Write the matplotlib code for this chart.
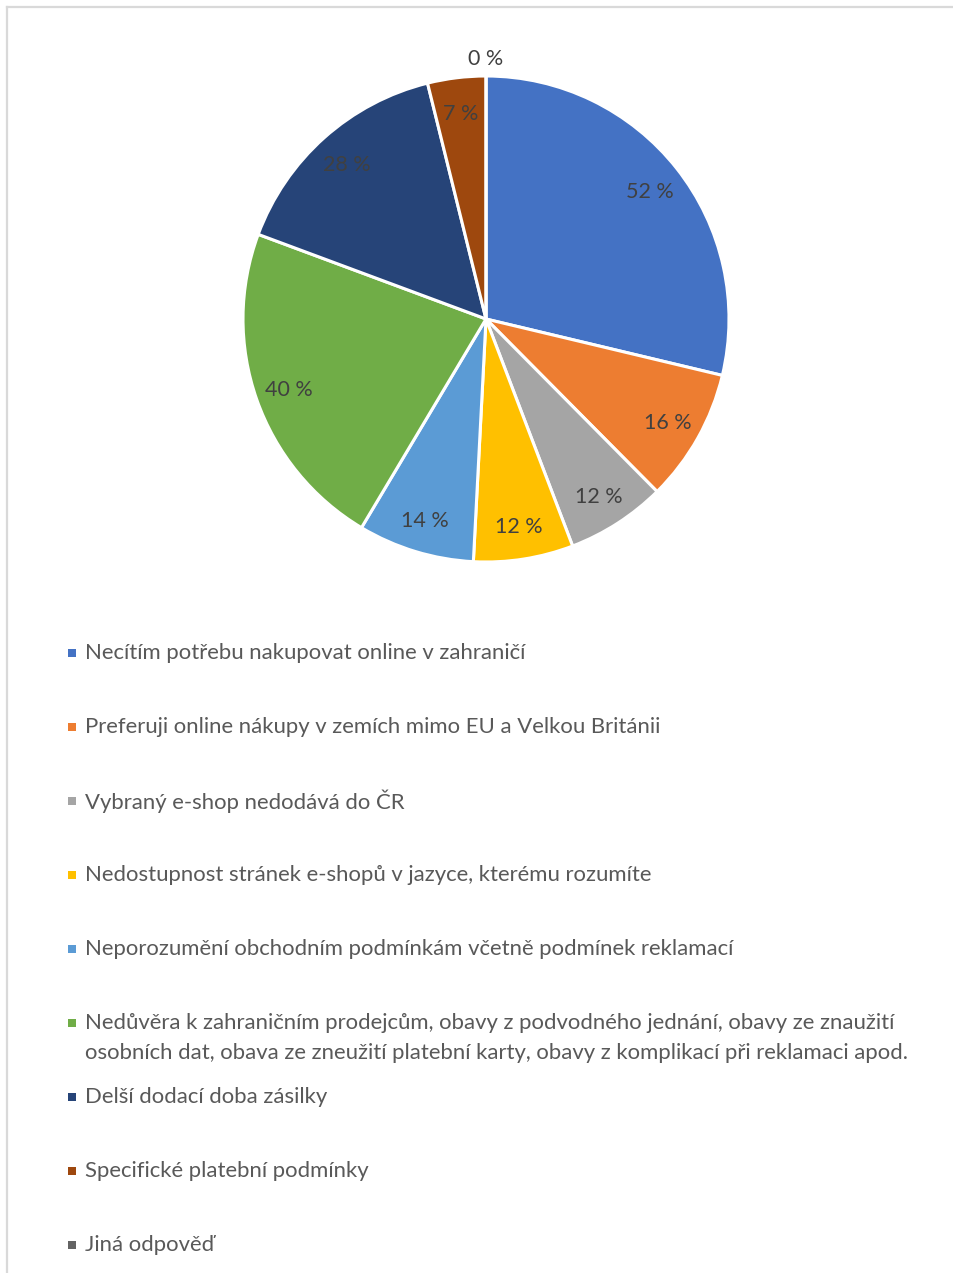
import numpy as np
import matplotlib.pyplot as plt
from matplotlib.patches import Rectangle
from matplotlib.lines import Line2D

# share of respondents per reason (%)
categories = [
    'Necítím potřebu nakupovat online v zahraničí',
    'Preferuji online nákupy v zemích mimo EU a Velkou Británii',
    'Vybraný e-shop nedodává do ČR',
    'Nedostupnost stránek e-shopů v jazyce, kterému rozumíte',
    'Neporozumění obchodním podmínkám včetně podmínek reklamací',
    'Nedůvěra k zahraničním prodejcům, obavy z podvodného jednání, obavy ze znaužití\n'
    'osobních dat, obava ze zneužití platební karty, obavy z komplikací při reklamaci apod.',
    'Delší dodací doba zásilky',
    'Specifické platební podmínky',
    'Jiná odpověď',
]
values = [52, 16, 12, 12, 14, 40, 28, 7, 0]
colors = ['#4472C4', '#ED7D31', '#A5A5A5', '#FFC000', '#5B9BD5',
          '#70AD47', '#264478', '#9E480E', '#636363']

W, H = 954, 1273
DPI = 100
FONT = 'Lato'
FS = 15.9

fig = plt.figure(figsize=(W / DPI, H / DPI), dpi=DPI)
fig.patch.set_facecolor('white')

# pie placement in pixels
cx, cy, r = 486, 319, 243
ax = fig.add_axes([(cx - r) / W, (H - cy - r) / H, 2 * r / W, 2 * r / H])
wedges, _ = ax.pie(values, colors=colors, startangle=90, counterclock=False,
                   wedgeprops=dict(edgecolor='white', linewidth=2.2))
ax.set_xlim(-1, 1)
ax.set_ylim(-1, 1)
ax.set_aspect('equal')
ax.axis('off')

for w, v in zip(wedges, values):
    mid = np.deg2rad((w.theta1 + w.theta2) / 2)
    dist = 0.86 if v > 0 else 1.08
    ax.text(dist * np.cos(mid), dist * np.sin(mid), f'{v} %',
            ha='center', va='center_baseline', fontsize=15.5,
            color='#404040', family=FONT, clip_on=False)

# legend, one entry per row
y0, step, line_h = 653, 74, 30
for i, (lab, col) in enumerate(zip(categories, colors)):
    y = y0 + step * i
    fig.add_artist(Rectangle((68 / W, (H - y - 4) / H), 8 / W, 8 / H,
                             transform=fig.transFigure, facecolor=col,
                             edgecolor='none'))
    for k, line in enumerate(lab.split('\n')):
        fig.text(85 / W, (H - y - k * line_h) / H, line, ha='left',
                 va='center', fontsize=FS, color='#595959', family=FONT)

# thin frame on top and left
fig.add_artist(Line2D([7 / W, 1], [(H - 7) / H] * 2, color='#D9D9D9',
                      linewidth=1.6, transform=fig.transFigure))
fig.add_artist(Line2D([7 / W] * 2, [0, (H - 7) / H], color='#D9D9D9',
                      linewidth=1.6, transform=fig.transFigure))

fig.savefig('out.png', dpi=DPI)
